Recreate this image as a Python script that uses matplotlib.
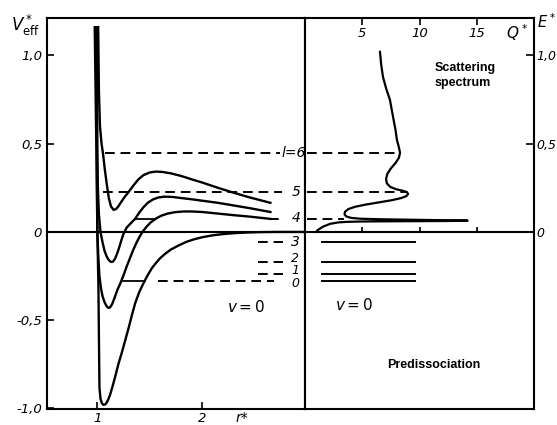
import numpy as np
import matplotlib.pyplot as plt

# effective potentials V*eff(r*) for four values of l
r_a = [0.975, 0.99, 1.0, 1.01, 1.02, 1.03, 1.045, 1.06, 1.08, 1.10, 1.12, 1.145, 1.17, 1.20,
       1.24, 1.27, 1.30, 1.33, 1.36, 1.40, 1.44, 1.48, 1.52, 1.56, 1.60, 1.65, 1.70, 1.78,
       1.85, 1.92, 2.0, 2.1, 2.2, 2.3, 2.4, 2.55, 2.7, 2.98]
v_a = [1.16, 0.5, 0.0, -0.3, -0.88, -0.945, -0.972, -0.98, -0.975, -0.955, -0.925, -0.875,
       -0.82, -0.75, -0.67, -0.605, -0.54, -0.47, -0.405, -0.34, -0.29, -0.245, -0.205, -0.175,
       -0.148, -0.122, -0.10, -0.075, -0.056, -0.042, -0.03, -0.019, -0.012, -0.007, -0.004,
       -0.001, 0.0, 0.0]

r_b = [0.985, 0.995, 1.0, 1.01, 1.02, 1.035, 1.05, 1.07, 1.09, 1.105, 1.12, 1.14, 1.16, 1.19,
       1.22, 1.25, 1.28, 1.31, 1.34, 1.37, 1.40, 1.43, 1.47, 1.51, 1.56, 1.61, 1.67, 1.74, 1.82,
       1.9, 2.0, 2.15, 2.3, 2.45, 2.65]
v_b = [1.16, 0.5, 0.0, -0.15, -0.25, -0.32, -0.365, -0.40, -0.422, -0.43, -0.428, -0.41, -0.38,
       -0.33, -0.29, -0.245, -0.195, -0.15, -0.105, -0.065, -0.03, 0.0, 0.03, 0.055, 0.076,
       0.092, 0.104, 0.112, 0.116, 0.116, 0.113, 0.104, 0.095, 0.087, 0.074]

r_c = [0.995, 1.0, 1.005, 1.015, 1.03, 1.05, 1.07, 1.09, 1.11, 1.13, 1.15, 1.17, 1.19, 1.21,
       1.23, 1.25, 1.28, 1.32, 1.36, 1.40, 1.44, 1.48, 1.53, 1.58, 1.64, 1.72, 1.8, 1.9, 2.0,
       2.15, 2.3, 2.45, 2.65]
v_c = [1.16, 0.5, 0.25, 0.1, 0.0, -0.06, -0.11, -0.14, -0.16, -0.17, -0.168, -0.15, -0.12,
       -0.085, -0.045, -0.01, 0.025, 0.05, 0.074, 0.11, 0.14, 0.165, 0.184, 0.195, 0.2, 0.198,
       0.192, 0.185, 0.177, 0.165, 0.15, 0.135, 0.113]

r_d = [1.008, 1.015, 1.025, 1.04, 1.055, 1.07, 1.09, 1.11, 1.13, 1.155, 1.18, 1.20, 1.23,
       1.26, 1.30, 1.34, 1.39, 1.44, 1.50, 1.56, 1.62, 1.70, 1.8, 1.9, 2.0, 2.15, 2.3, 2.45, 2.65]
v_d = [1.16, 0.8, 0.6, 0.5, 0.44, 0.36, 0.27, 0.19, 0.145, 0.125, 0.13, 0.145, 0.172,
       0.198, 0.228, 0.26, 0.297, 0.322, 0.337, 0.342, 0.34, 0.332, 0.317, 0.298, 0.28, 0.25,
       0.222, 0.196, 0.165]

# scattering spectrum Q*(E*)
q_spec = [6.55, 6.65, 6.81, 7.1, 7.42, 7.69, 7.9, 8.03, 8.2, 8.30, 8.2, 7.9, 7.5, 7.2, 7.08,
          7.15, 7.45, 7.95, 8.5, 8.9, 9.0, 8.85, 8.4, 7.6, 6.5, 5.3, 4.4, 3.8, 3.5, 3.45, 3.6,
          4.0, 4.8, 6.5, 9.5, 12.5, 14.2, 12.5, 9.5, 6.5, 4.8, 3.6, 2.9, 2.2, 1.57, 1.14, 0.96]
e_spec = [1.02, 0.95, 0.878, 0.81, 0.748, 0.652, 0.58, 0.521, 0.48, 0.448, 0.42, 0.39, 0.36,
          0.33, 0.30, 0.275, 0.255, 0.242, 0.234, 0.226, 0.215, 0.203, 0.192, 0.18, 0.168,
          0.155, 0.143, 0.13, 0.115, 0.1, 0.088, 0.08, 0.075, 0.072, 0.069, 0.066, 0.064,
          0.062, 0.061, 0.06, 0.059, 0.057, 0.054, 0.046, 0.03, 0.012, 0.0]

# energy levels
level_names = ['l=6', '5', '4', '3', '2', '1', '0']
level_vals = [0.445, 0.226, 0.075, -0.057, -0.17, -0.238, -0.278]
label_vals = [0.445, 0.226, 0.08, -0.057, -0.152, -0.221, -0.293]

# tick labels
v_ticks = [-1.0, -0.5, 0.0, 0.5, 1.0]
v_labels = ['-1,0', '-0,5', '0', '0,5', '1,0']
r_ticks = [1, 2]
r_labels = ['1', '2']
q_ticks = [5, 10, 15]
q_labels = ['5', '10', '15']
e_ticks = [0.0, 0.5, 1.0]
e_labels = ['0', '0,5', '1,0']

lw = 1.5
dash = (0, (5, 3))
ylo, yhi = -1.003, 1.212

fig = plt.figure(figsize=(5.57, 4.25), dpi=100)
ax1 = fig.add_axes([47/557, 16/425, 258/557, 391/425])
ax2 = fig.add_axes([305/557, 16/425, 229/557, 391/425])

# ---- left panel: potentials ----
for r, v in [(r_a, v_a), (r_b, v_b), (r_c, v_c), (r_d, v_d)]:
    ax1.plot(r, v, color='k', lw=1.7, solid_joinstyle='round')
ax1.axhline(0, color='k', lw=lw)

ax1.plot([1.076, 2.74], [level_vals[0]] * 2, color='k', lw=1.4, ls=dash)
ax1.plot([1.05, 2.76], [level_vals[1]] * 2, color='k', lw=1.4, ls=dash)
ax1.plot([1.36, 1.55], [level_vals[2]] * 2, color='k', lw=1.3)
ax1.plot([2.64, 2.78], [level_vals[2]] * 2, color='k', lw=1.4, ls=dash)
for v in level_vals[3:6]:
    ax1.plot([2.53, 2.77], [v, v], color='k', lw=1.4, ls=dash)
ax1.plot([1.24, 1.45], [level_vals[6]] * 2, color='k', lw=1.3)
ax1.plot([1.58, 2.68], [level_vals[6]] * 2, color='k', lw=1.4, ls=dash)

for name, v in zip(level_names, label_vals):
    x = 2.76 if name == 'l=6' else 2.85
    ax1.text(x, v, name, fontsize=10 if name in ('l=6', '5', '4', '3') else 9,
             style='italic', ha='left', va='center')

ax1.text(2.24, -0.425, r'$v=0$', fontsize=11, ha='left', va='center')

ax1.set_xlim(0.52, 2.98)
ax1.set_ylim(ylo, yhi)
ax1.set_yticks(v_ticks, labels=v_labels)
ax1.set_xticks(r_ticks, labels=r_labels)
ax1.tick_params(direction='in', length=5, width=1.2, labelsize=9.5)
ax1.tick_params(axis='x', pad=2)
for lab in ax1.get_xticklabels() + ax1.get_yticklabels():
    lab.set_style('italic')
ax1.text(2.32, -0.006, 'r*', transform=ax1.get_xaxis_transform(), fontsize=10,
         style='italic', ha='left', va='top')

# ---- right panel: spectrum ----
ax2.plot(q_spec, e_spec, color='k', lw=1.6, solid_joinstyle='round')
ax2.axhline(0, color='k', lw=lw)
ax2.plot([0.2, 8.3], [level_vals[0]] * 2, color='k', lw=1.4, ls=dash)
ax2.plot([0.2, 8.9], [level_vals[1]] * 2, color='k', lw=1.4, ls=dash)
ax2.plot([0.2, 3.4], [level_vals[2]] * 2, color='k', lw=1.4, ls=dash)
for v in level_vals[3:]:
    ax2.plot([1.5, 9.6], [v, v], color='k', lw=1.4)
ax2.vlines(q_ticks, 0, 0.03, color='k', lw=1.2)

ax2.text(2.6, -0.414, r'$v=0$', fontsize=11, ha='left', va='center')
ax2.text(11.35, 0.96, 'Scattering\nspectrum', fontsize=9, fontweight='bold',
         family='Liberation Sans', ha='left', va='top', linespacing=1.25)
ax2.text(7.16, -0.754, 'Predissociation', fontsize=9, fontweight='bold',
         family='Liberation Sans', ha='left', va='center')

ax2.set_xlim(0, 20)
ax2.set_ylim(ylo, yhi)
ax2.set_xticks(q_ticks, labels=q_labels)
ax2.xaxis.tick_top()
ax2.tick_params(axis='x', direction='in', length=5, width=1.2, pad=-16, labelsize=9.5)
ax2.yaxis.tick_right()
ax2.set_yticks(e_ticks, labels=e_labels)
ax2.tick_params(axis='y', direction='in', length=6, width=1.2, labelsize=9, pad=2)
for lab in ax2.get_xticklabels() + ax2.get_yticklabels():
    lab.set_style('italic')
ax2.text(18.5, 0.962, r'$Q^*$', transform=ax2.get_xaxis_transform(), fontsize=11,
         ha='center', va='center')

for ax in (ax1, ax2):
    for s in ax.spines.values():
        s.set_linewidth(1.5)

fig.text(0.02, 1 - 25/425, r'$V^*_{\rm eff}$', fontsize=12, fontweight='bold', va='center')
fig.text(537/557, 1 - 22/425, r'$E^*$', fontsize=10.5, va='center')

fig.savefig('out.png', dpi=100)
